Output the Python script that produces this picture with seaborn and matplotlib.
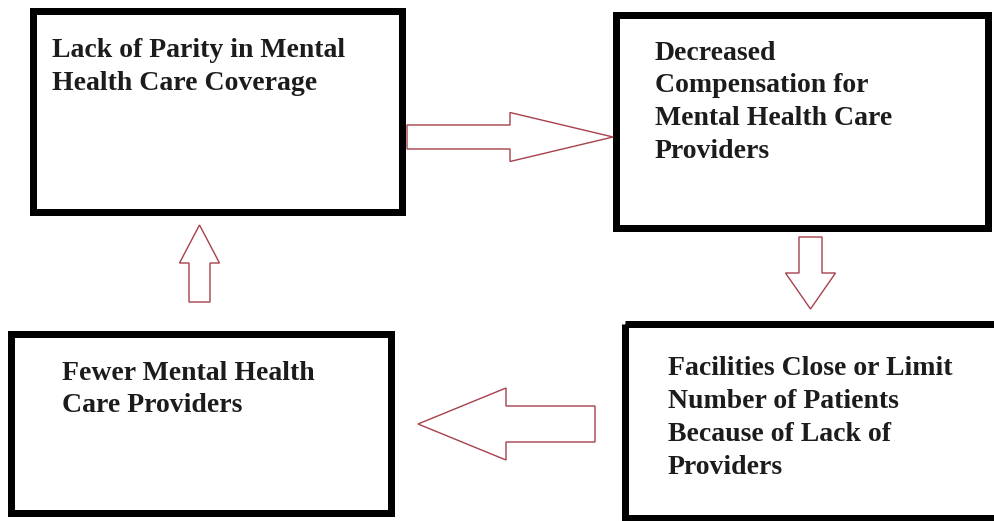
import matplotlib
matplotlib.use("Agg")
import matplotlib.pyplot as plt
from matplotlib.patches import Rectangle, Polygon
import seaborn as sns

# ---- content ----
box_labels = [
    ["Lack of Parity in Mental", "Health Care Coverage"],
    ["Decreased", "Compensation for", "Mental Health Care", "Providers"],
    ["Facilities Close or Limit", "Number of Patients", "Because of Lack of", "Providers"],
    ["Fewer Mental Health", "Care Providers"],
]

# ---- layout (pixel coords, y downward) ----
box_left = [33, 616, 625, 11]
box_top = [11, 15, 324, 334]
box_right = [402, 988, 1000, 391]
box_bottom = [212, 228, 518, 513]
text_x = [52, 655, 668, 62]
text_y0 = [57, 60, 375, 380]
line_gap = [33, 32.5, 33, 32]

# arrows: (tail_x, tail_y) centre of shaft end, tip, shaft half width, head half width, head length
arrows = [
    dict(tail=(407, 137), tip=(613, 137), sw=12, hw=24.5, hl=103),   # right
    dict(tail=(810.5, 237), tip=(810.5, 309), sw=11.5, hw=25, hl=36),  # down
    dict(tail=(595, 424), tip=(418, 424), sw=18, hw=36, hl=88),      # left
    dict(tail=(199.5, 302), tip=(199.5, 225), sw=10.5, hw=20, hl=38),  # up
]

sns.set_theme(style="white")
plt.rcParams['font.family'] = ['Liberation Serif', 'DejaVu Serif']

W, H = 995, 521
fig = plt.figure(figsize=(W / 100, H / 100), dpi=100)
ax = fig.add_axes([0, 0, 1, 1])
ax.set_xlim(0, W)
ax.set_ylim(H, 0)
ax.axis("off")

lw_box = 7 * 72 / 100
for l, t, r, b in zip(box_left, box_top, box_right, box_bottom):
    ax.add_patch(Rectangle((l, t), r - l, b - t, fill=False, ec="black",
                           lw=lw_box, joinstyle="miter"))

for lines, x, y0, g in zip(box_labels, text_x, text_y0, line_gap):
    for i, s in enumerate(lines):
        ax.text(x, y0 + i * g, s, fontsize=20, fontweight="bold",
                color="#1c1c1c", va="baseline", ha="left")

import numpy as np
for a in arrows:
    tx, ty = a["tail"]
    px, py = a["tip"]
    d = np.array([px - tx, py - ty], float)
    L = np.hypot(*d)
    u = d / L
    n = np.array([-u[1], u[0]])
    tail = np.array([tx, ty])
    base = tail + u * (L - a["hl"])
    pts = [tail + n * a["sw"], base + n * a["sw"], base + n * a["hw"],
           np.array([px, py]), base - n * a["hw"], base - n * a["sw"],
           tail - n * a["sw"]]
    ax.add_patch(Polygon(pts, closed=True, fc="white", ec="#a8404c", lw=1.0,
                         joinstyle="miter"))

fig.savefig("out.png", dpi=100, facecolor="white")
